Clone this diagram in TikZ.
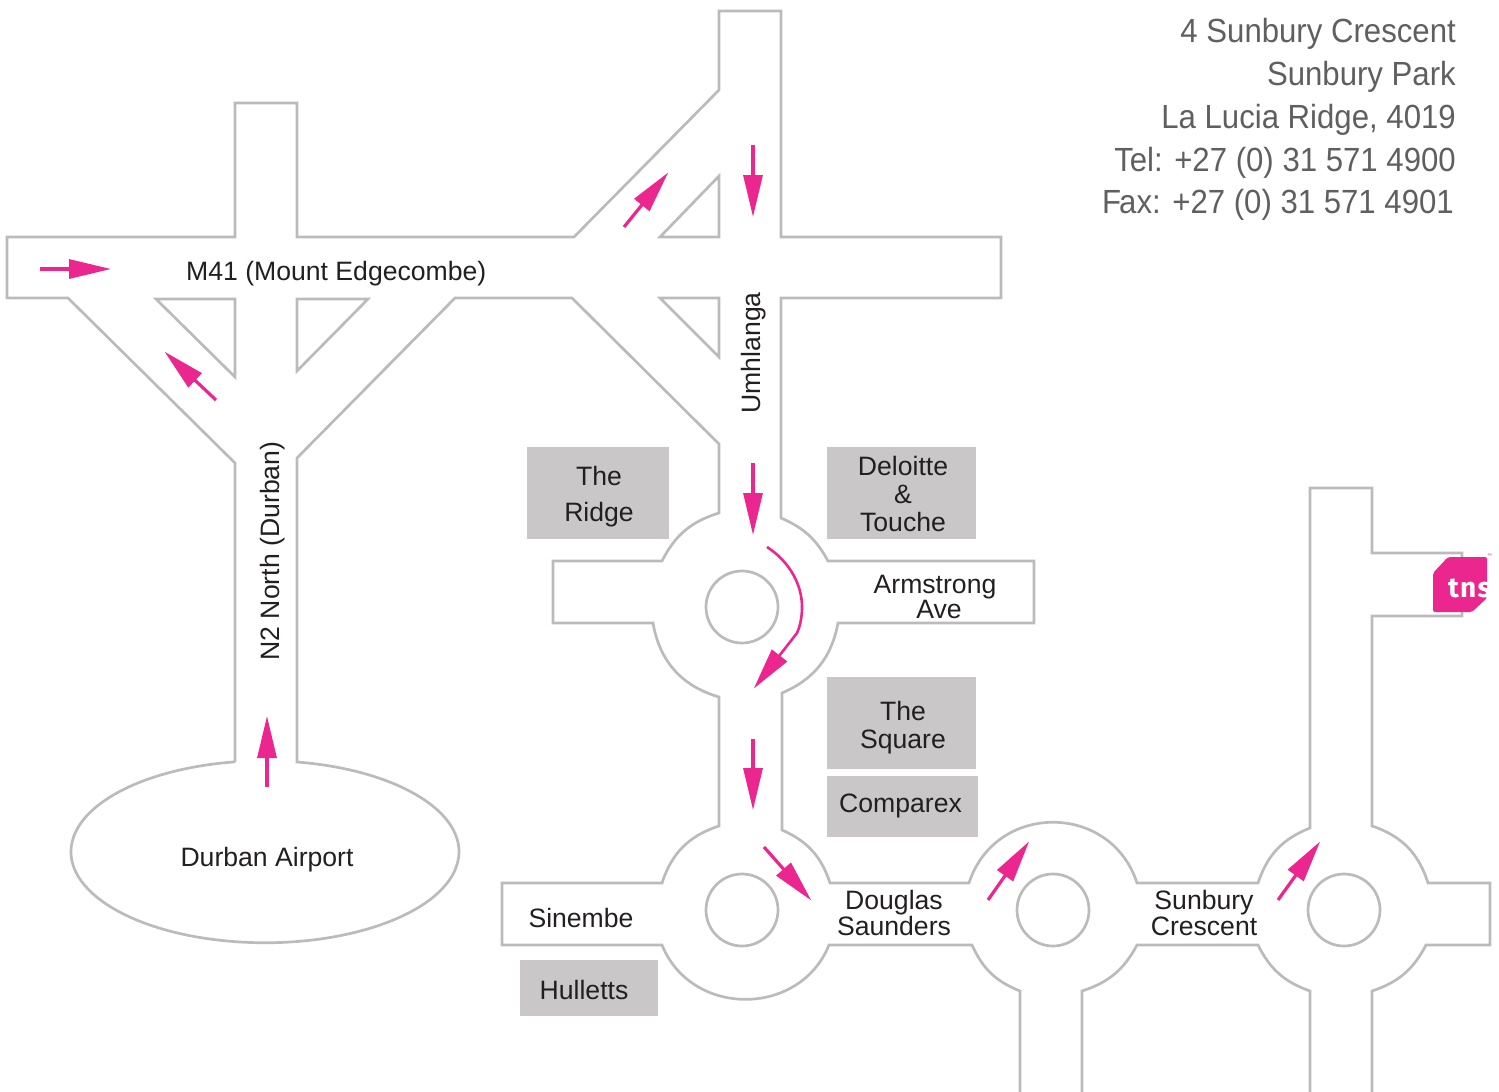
\documentclass[tikz,border=0pt]{standalone}
\usepackage{fontspec}
\setmainfont{Liberation Sans}
\newfontfamily\addressfont[FakeStretch=0.93]{Liberation Sans}
\newfontfamily\logofont{Fira Sans}
\usetikzlibrary{arrows.meta}
\definecolor{roadgrey}{HTML}{BBBBBB}
\definecolor{boxgrey}{HTML}{C9C7C8}
\definecolor{routepink}{HTML}{EC268F}
\definecolor{inktext}{HTML}{231F20}
\definecolor{addressgrey}{HTML}{5F5F5F}
\tikzset{
  road/.style={draw=roadgrey, line width=2.7pt, line join=miter},
  rim/.style={bend right=#1},
  route/.style={draw=routepink, line width=3.2pt, shorten >=-2pt, -{Triangle[length=42pt,width=19pt]}},
  place/.style={text=inktext, font=\fontsize{26.6}{28}\selectfont, inner sep=0pt, align=center},
  site/.style={fill=boxgrey, inner sep=0pt},
}
\begin{document}
\begin{tikzpicture}[x=1pt, y=1pt, yscale=-1]
  \useasboundingbox (0,0) rectangle (1499,1092);
  % roads
  \path[road] (235,762) -- (235,463) -- (68,298) -- (7,298) -- (7,237) -- (235,237)
    -- (235,103) -- (297,103) -- (297,237) -- (574,237) -- (719,90) -- (719,11)
    -- (781,11) -- (781,237) -- (1001,237) -- (1001,298) -- (781,298) -- (781,518)
    to[rim=19] (828,561) -- (1034,561) -- (1034,623) -- (838,623)
    to[rim=28] (782,693) -- (782,830) to[rim=24] (830,883) -- (969,883)
    to[rim=72, looseness=1.3] (1137,883) -- (1258,883) to[rim=25] (1310,828)
    -- (1310,488) -- (1372,488) -- (1372,553) -- (1462,553) -- (1462,616) -- (1372,616)
    -- (1372,826) to[rim=27] (1428,883) -- (1490,883) -- (1490,945) -- (1426,945)
    to[rim=22] (1372,991) -- (1372,1100);
  \path[road] (1310,1100) -- (1310,991) to[rim=22] (1258,945) -- (1137,945)
    to[rim=22] (1082,991) -- (1082,1100);
  \path[road] (1020,1100) -- (1020,991) to[rim=22] (972,945) -- (829,945)
    to[rim=68, looseness=1.2] (662,945) -- (502,945) -- (502,883) -- (662,883)
    to[rim=27] (719,826) -- (719,697) to[rim=32] (653,623) -- (553,623) -- (553,561)
    -- (662,561) to[rim=23] (719,513) -- (719,444) -- (572,298) -- (455,298)
    -- (297,458) -- (297,762)
    arc[start angle=-80.5, end angle=261.1, x radius=194, y radius=91];
  % islands
  \path[road] (156,299) -- (235,299) -- (235,377) -- cycle;
  \path[road] (297,299) -- (368,299) -- (297,371) -- cycle;
  \path[road] (660,298) -- (719,298) -- (719,357) -- cycle;
  \path[road] (719,176) -- (719,237) -- (660,237) -- cycle;
  \path[road] (742,607) circle[radius=36];
  \path[road] (742,910) circle[radius=36];
  \path[road] (1053,910) circle[radius=36];
  \path[road] (1344,910) circle[radius=36];
  % buildings
  \node[site, minimum width=142pt, minimum height=92pt] (ridgeBox) at (598,493) {};
  \node[site, minimum width=149pt, minimum height=92pt] (deloitteBox) at (901.5,493) {};
  \node[site, minimum width=149pt, minimum height=92pt] (squareBox) at (901.5,723) {};
  \node[site, minimum width=151pt, minimum height=61pt] (comparexBox) at (902.5,806.5) {};
  \node[site, minimum width=138pt, minimum height=56pt] (hullettsBox) at (589,988) {};
  \node[place] (ridge) at (599,497) {The\\[8pt]Ridge};
  \node[place] (deloitte) at (903,494) {Deloitte\\\&\\Touche};
  \node[place] (square) at (903,728) {The\\Square};
  \node[place] (comparex) at (900.5,805.5) {Comparex};
  \node[place] (hulletts) at (584,990) {Hulletts};
  % road names
  \node[place, anchor=west] (m41) at (186,274) {M41 (Mount Edgecombe)};
  \node[place, rotate=90] (n2) at (272.5,551) {N2 North (Durban)};
  \node[place, rotate=90] (umhlanga) at (754,353) {Umhlanga};
  \node[place] (armstrong) at (935,597) {Armstrong\\[-3pt]\hspace*{8pt}Ave};
  \node[place] (airport) at (267,860) {Durban Airport};
  \node[place] (sinembe) at (581,918) {Sinembe};
  \node[place] (douglas) at (894,913) {Douglas\\[-2pt]Saunders};
  \node[place] (sunbury) at (1204,913) {Sunbury\\[-2pt]Crescent};
  % route
  \draw[route] (40,269) -- (109,269);
  \draw[route] (216,400) -- (166,353);
  \draw[route] (267,787) -- (267,718);
  \draw[route] (624,227) -- (667,174);
  \draw[route] (753,145) -- (753,215);
  \draw[route] (753,463) -- (753,533);
  \draw[route, line width=2.6pt] (767,547) .. controls (790,562) and (802,585) .. (802,607)
    .. controls (802,618) and (800,626) .. (797,633) -- (755,687);
  \draw[route] (753,739) -- (753,808);
  \draw[route] (764,847) -- (810,899);
  \draw[route] (988,900) -- (1028,843);
  \draw[route] (1278,900) -- (1319,843);
  % address
  \node[anchor=north east, inner sep=0pt, align=right, text=addressgrey,
    font=\addressfont\fontsize{33.5}{42.75}\selectfont] (address) at (1456,18.5)
    {4 Sunbury Crescent\\Sunbury Park\\La Lucia Ridge, 4019\\Tel: +27 (0) 31 571 4900\\F\kern-2pt ax: +27 (0) 31 571 4901\hspace*{2pt}};
  % logo
  \path[fill=routepink, rounded corners=2pt] (1448,557) -- (1487,557) -- (1487,598) -- (1472,612)
    -- (1433,612) -- (1433,573) -- cycle;
  \begin{scope}
    \clip (1433,557) rectangle (1487,612);
    \node[anchor=base west, inner sep=0pt, text=white, font=\logofont\bfseries\fontsize{28}{28}\selectfont] (tns) at (1448,597) {t\kern1pt n\kern1.5pt s};
  \end{scope}
  \node[anchor=west, inner sep=0pt, text=routepink, font=\fontsize{5}{5}\selectfont] (tm) at (1487,556) {™};
\end{tikzpicture}
\end{document}
